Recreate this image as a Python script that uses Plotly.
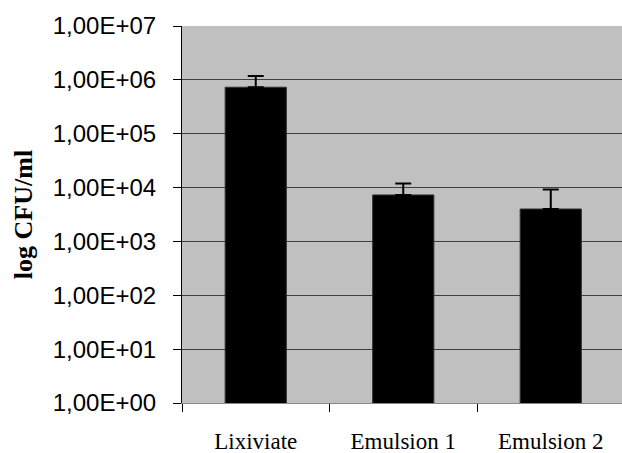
import plotly.graph_objects as go

categories = ["Lixiviate", "Emulsion 1", "Emulsion 2"]
values = [7.3e5, 7.3e3, 4.0e3]
err_plus = [4.5e5, 4.6e3, 5.2e3]
tick_vals = [1e0, 1e1, 1e2, 1e3, 1e4, 1e5, 1e6, 1e7]
tick_text = ["1,00E+00", "1,00E+01", "1,00E+02", "1,00E+03",
             "1,00E+04", "1,00E+05", "1,00E+06", "1,00E+07"]

fig = go.Figure(go.Bar(
    x=categories, y=values,
    marker=dict(color="black", line=dict(color="#333333", width=1)),
    error_y=dict(type="data", symmetric=False, array=err_plus,
                 arrayminus=[0, 0, 0], color="black", thickness=2, width=8),
))

fig.update_layout(
    width=622, height=453,
    margin=dict(l=182, r=0, t=26, b=50),
    paper_bgcolor="white", plot_bgcolor="#C0C0C0",
    bargap=0.585,
    showlegend=False,
    xaxis=dict(
        range=[-0.5, 2.483],
        ticks="outside", tickson="boundaries", ticklen=8, tickcolor="black",
        showline=True, linecolor="#888888", linewidth=1,
        showgrid=False,
        tickfont=dict(family="Liberation Serif", size=23, color="black"),
        ticklabelstandoff=17,
    ),
    yaxis=dict(
        type="log", range=[0, 7],
        tickvals=tick_vals, ticktext=tick_text,
        ticks="outside", ticklen=8, tickcolor="black",
        showline=True, linecolor="black", linewidth=1,
        showgrid=True, gridcolor="#404040", gridwidth=1,
        tickfont=dict(family="Liberation Sans", size=24, color="black"),
        ticklabelstandoff=12,
        title=dict(text="<b>log CFU/ml</b>",
                   font=dict(family="Liberation Serif", size=26, color="black"),
                   standoff=12),
    ),
)

fig.write_html("out.html", config={"displayModeBar": False},
               post_script="document.body.style.margin='0';")
